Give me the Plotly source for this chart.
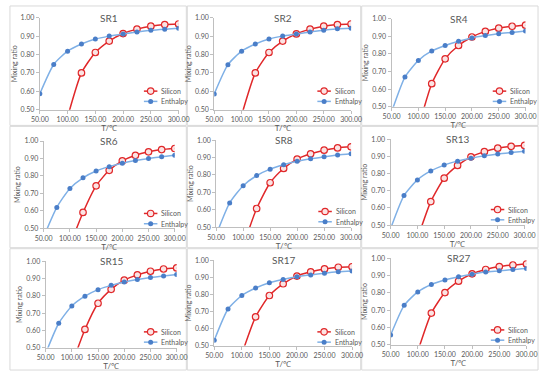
import plotly.graph_objects as go

temps = [50, 75, 100, 125, 150, 175, 200, 225, 250, 275, 300]
panel_names = ["SR1", "SR2", "SR4", "SR6", "SR8", "SR13", "SR15", "SR17", "SR27"]
series_names = ["Silicon", "Enthalpy"]

silicon_SR1 = [None, None, 0.46, 0.700, 0.811, 0.873, 0.914, 0.938, 0.954, 0.963, 0.966]
silicon_SR2 = [None, None, 0.47, 0.700, 0.811, 0.873, 0.912, 0.938, 0.954, 0.963, 0.966]
silicon_SR4 = [None, None, 0.38, 0.631, 0.772, 0.848, 0.896, 0.928, 0.946, 0.957, 0.963]
silicon_SR6 = [None, None, 0.40, 0.590, 0.743, 0.832, 0.886, 0.918, 0.938, 0.951, 0.957]
silicon_SR8 = [None, None, 0.39, 0.607, 0.755, 0.837, 0.891, 0.921, 0.942, 0.955, 0.961]
silicon_SR13 = [None, None, 0.42, 0.637, 0.773, 0.847, 0.897, 0.927, 0.947, 0.958, 0.963]
silicon_SR15 = [None, None, 0.40, 0.605, 0.757, 0.838, 0.891, 0.922, 0.943, 0.956, 0.962]
silicon_SR17 = [None, None, 0.45, 0.669, 0.794, 0.863, 0.908, 0.933, 0.950, 0.960, 0.963]
silicon_SR27 = [None, None, 0.46, 0.683, 0.802, 0.868, 0.911, 0.936, 0.953, 0.962, 0.968]

enthalpy_SR1 = [0.587, 0.746, 0.818, 0.857, 0.884, 0.900, 0.912, 0.923, 0.932, 0.938, 0.943]
enthalpy_SR2 = [0.586, 0.745, 0.818, 0.857, 0.884, 0.900, 0.911, 0.923, 0.932, 0.940, 0.943]
enthalpy_SR4 = [0.47, 0.669, 0.763, 0.817, 0.848, 0.872, 0.891, 0.904, 0.915, 0.922, 0.930]
enthalpy_SR6 = [0.45, 0.619, 0.728, 0.789, 0.828, 0.853, 0.873, 0.888, 0.899, 0.910, 0.918]
enthalpy_SR8 = [0.455, 0.639, 0.738, 0.796, 0.833, 0.858, 0.878, 0.893, 0.904, 0.914, 0.921]
enthalpy_SR13 = [0.48, 0.672, 0.763, 0.815, 0.849, 0.872, 0.889, 0.903, 0.914, 0.922, 0.929]
enthalpy_SR15 = [0.465, 0.641, 0.741, 0.798, 0.836, 0.861, 0.880, 0.895, 0.907, 0.916, 0.924]
enthalpy_SR17 = [0.531, 0.715, 0.794, 0.838, 0.869, 0.888, 0.904, 0.915, 0.925, 0.933, 0.938]
enthalpy_SR27 = [0.555, 0.728, 0.806, 0.849, 0.875, 0.894, 0.909, 0.921, 0.928, 0.936, 0.942]

silicon_series = [silicon_SR1, silicon_SR2, silicon_SR4, silicon_SR6, silicon_SR8,
                  silicon_SR13, silicon_SR15, silicon_SR17, silicon_SR27]
enthalpy_series = [enthalpy_SR1, enthalpy_SR2, enthalpy_SR4, enthalpy_SR6, enthalpy_SR8,
                   enthalpy_SR13, enthalpy_SR15, enthalpy_SR17, enthalpy_SR27]

W, H = 550, 375
# plot-area boxes in pixels: (left, top, right, bottom)
boxes = [
    (32, 13, 176, 107), (213, 13, 355, 107), (397, 14, 536, 104),
    (36, 139, 172, 228), (215, 138, 355, 227), (396, 137, 535, 225),
    (38, 262, 174, 350), (213, 261, 356, 348), (396, 259, 537, 347),
]
# legend anchor (line start x, Silicon row y) in pixels
legend_pos = [
    (140, 88), (320, 88), (502, 88),
    (140, 213), (321, 211), (500, 209),
    (140, 334), (320, 334), (500, 332),
]
frames = [
    (1, 1, 184, 123), (185, 1, 365, 123), (366, 1, 549, 123),
    (1, 124, 184, 248), (185, 124, 365, 248), (366, 124, 549, 248),
    (1, 249, 184, 373), (185, 249, 365, 373), (366, 249, 549, 373),
]

TXT = "#595959"
AX = "#bfbfbf"
FONT = "Lato"
RED = "#e0282a"
RED_FILL = "#fbe3e3"
BLUE = "#4a7ec8"
LBLUE = "#7fb0e6"


def px(x):
    return x / W


def py(y):
    return 1 - y / H


fig = go.Figure()
annotations, shapes = [], []
layout = dict(
    width=W, height=H, margin=dict(l=0, r=0, t=0, b=0),
    paper_bgcolor="white", plot_bgcolor="white",
    font=dict(family=FONT, color=TXT, size=7),
    showlegend=False,
)

for i, name in enumerate(panel_names):
    l, t, r, b = boxes[i]
    suffix = "" if i == 0 else str(i + 1)
    xa, ya = "x" + suffix, "y" + suffix
    fig.add_trace(go.Scatter(
        x=temps, y=silicon_series[i], name=series_names[0], mode="lines+markers",
        line=dict(color=RED, width=1.5, shape="spline", smoothing=0.6),
        marker=dict(symbol="circle", size=6.5, color=RED_FILL, line=dict(color=RED, width=1.2)),
        xaxis=xa, yaxis=ya, connectgaps=False,
    ))
    fig.add_trace(go.Scatter(
        x=temps, y=enthalpy_series[i], name=series_names[1], mode="lines+markers",
        line=dict(color=LBLUE, width=1.5, shape="spline", smoothing=0.6),
        marker=dict(symbol="circle", size=5, color=BLUE),
        xaxis=xa, yaxis=ya,
    ))
    common = dict(showgrid=False, zeroline=False, showline=True, linecolor=AX, linewidth=1,
                  ticks="outside", ticklen=3, tickcolor=AX,
                  tickfont=dict(size=7, color=TXT, family=FONT))
    layout["xaxis" + suffix] = dict(
        domain=[px(l), px(r)], anchor=ya, range=[50, 300], tickmode="linear", tick0=50, dtick=50,
        tickformat=".2f", title=dict(text="T/℃", font=dict(size=8, color=TXT), standoff=0),
        **common)
    layout["yaxis" + suffix] = dict(
        domain=[py(b), py(t)], anchor=xa, range=[0.5, 1.0], tickmode="linear", tick0=0.5,
        dtick=0.1, tickformat=".2f",
        title=dict(text="Mixing ratio", font=dict(size=7, color=TXT), standoff=2),
        **common)
    annotations.append(dict(
        text=name, x=px((l + r) / 2), y=py(t), xref="paper", yref="paper",
        xanchor="center", yanchor="middle", showarrow=False,
        font=dict(size=10, color=TXT, family=FONT),
    ))
    # legend (drawn as keys + labels)
    lx, ly = legend_pos[i]
    for k, (lname, lcol) in enumerate([(series_names[0], RED), (series_names[1], LBLUE)]):
        yy = ly + k * 10.5
        shapes.append(dict(type="line", xref="paper", yref="paper",
                           x0=px(lx), x1=px(lx + 14), y0=py(yy), y1=py(yy),
                           line=dict(color=lcol, width=1.5)))
        if k == 0:
            shapes.append(dict(type="circle", xref="paper", yref="paper",
                               xsizemode="pixel", ysizemode="pixel",
                               xanchor=px(lx + 7), yanchor=py(yy),
                               x0=-3.2, x1=3.2, y0=-3.2, y1=3.2,
                               fillcolor=RED_FILL, line=dict(color=RED, width=1.2)))
        else:
            shapes.append(dict(type="circle", xref="paper", yref="paper",
                               xsizemode="pixel", ysizemode="pixel",
                               xanchor=px(lx + 7), yanchor=py(yy),
                               x0=-2.5, x1=2.5, y0=-2.5, y1=2.5,
                               fillcolor=BLUE, line=dict(color=BLUE, width=0)))
        annotations.append(dict(
            text=lname, x=px(lx + 16), y=py(yy), xref="paper", yref="paper",
            xanchor="left", yanchor="middle", showarrow=False,
            font=dict(size=7, color=TXT, family=FONT),
        ))
    fl, ft, fr, fb = frames[i]
    shapes.append(dict(
        type="rect", xref="paper", yref="paper", x0=px(fl), x1=px(fr),
        y0=py(fb), y1=py(ft), line=dict(color="#d9d9d9", width=1), layer="below",
    ))

layout["annotations"] = annotations
layout["shapes"] = shapes
fig.update_layout(**layout)
fig.write_html("out.html", config={"displayModeBar": False},
               post_script="document.body.style.margin='0';document.body.style.overflow='hidden';")
